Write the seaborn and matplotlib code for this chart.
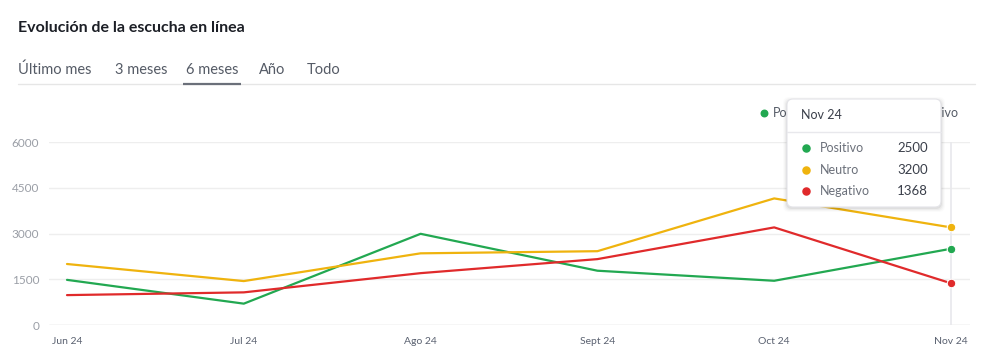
import numpy as np
import pandas as pd
import matplotlib
matplotlib.use("Agg")
import matplotlib.pyplot as plt
from matplotlib.patches import FancyBboxPatch
import seaborn as sns

# data
months = ["Jun 24", "Jul 24", "Ago 24", "Sept 24", "Oct 24", "Nov 24"]
series = ["Positivo", "Neutro", "Negativo"]
positivo = [1480, 700, 2990, 1780, 1450, 2500]
neutro = [2000, 1440, 2350, 2420, 4150, 3200]
negativo = [980, 1070, 1700, 2160, 3200, 1368]
yticks = [0, 1500, 3000, 4500, 6000]
tabs = ["Último mes", "3 meses", "6 meses", "Año", "Todo"]
active_tab = "6 meses"
title = "Evolución de la escucha en línea"

colors = {"Positivo": "#22a851", "Neutro": "#efb30e", "Negativo": "#e02a2b"}

df = pd.DataFrame({
    "mes": months * 3,
    "idx": list(range(len(months))) * 3,
    "serie": np.repeat(series, len(months)),
    "valor": positivo + neutro + negativo,
})

sns.set_theme(style="white")
plt.rcParams["font.family"] = ["Lato", "DejaVu Sans"]

W, H = 992, 364
fig = plt.figure(figsize=(W / 100, H / 100), dpi=100)

# main plot area, placed in pixels
left, right, top, bottom = 49, 970, 142, 325
ax = fig.add_axes([left / W, (H - bottom) / H, (right - left) / W, (bottom - top) / H])

sns.lineplot(data=df, x="idx", y="valor", hue="serie", palette=colors,
             linewidth=1.6, ax=ax, legend=False, zorder=3)

x0, dx = 67, (951 - 67) / 5
ax.set_xlim((left - x0) / dx, (right - x0) / dx)
ax.set_ylim(0, 6000)
ax.set_yticks(yticks)
ax.set_yticklabels([str(v) for v in yticks])
ax.set_xticks(range(len(months)))
ax.set_xticklabels(months)
ax.tick_params(axis="y", labelsize=8.5, labelcolor="#9a9ea6", length=0, pad=7)
ax.tick_params(axis="x", labelsize=7.5, labelcolor="#5a6170", length=0, pad=9)
ax.set_xlabel("")
ax.set_ylabel("")
ax.grid(axis="y", color="#eeeeee", linewidth=1)
ax.grid(axis="x", visible=False)
for s in ax.spines.values():
    s.set_visible(False)
ax.axhline(0, color="#e6e6e6", linewidth=1, zorder=1)

# hover crosshair and markers on last month
last = len(months) - 1
ax.axvline(last, color="#e8e8ec", linewidth=1.2, zorder=1)
last_vals = {"Positivo": positivo[-1], "Neutro": neutro[-1], "Negativo": negativo[-1]}
for name in series:
    ax.scatter([last], [last_vals[name]], s=38, color=colors[name],
               edgecolor="white", linewidth=0.8, zorder=5, clip_on=False)

# overlay in pixel coords for header, legend, tooltip
ov = fig.add_axes([0, 0, 1, 1], zorder=10)
ov.set_xlim(0, W)
ov.set_ylim(H, 0)
ov.axis("off")
ov.patch.set_alpha(0)

ov.text(18, 28, title, fontsize=11.5, fontweight="bold", color="#1c1f26",
        va="center", ha="left")

tab_x = [18, 115, 186, 259, 307]
for tx, t in zip(tab_x, tabs):
    ov.text(tx, 70, t, fontsize=10.5, color="#555b66", va="center", ha="left")
ov.plot([18, 975], [83.5, 83.5], color="#e6e6e6", linewidth=1)
ov.plot([183, 241], [83.5, 83.5], color="#6b707a", linewidth=1.6,
        solid_capstyle="butt")

# legend (partly hidden by tooltip)
leg_x = [764, 832, 900]
for lx, name in zip(leg_x, series):
    ov.scatter([lx], [113], s=22, color=colors[name], zorder=2)
    ov.text(lx + 9, 113, name, fontsize=9, color="#555b66", va="center",
            ha="left", zorder=2)

# tooltip box
bx0, by0, bx1, by1 = 787, 99, 941, 207
for k, a in enumerate([0.05, 0.035, 0.025, 0.015]):
    ov.add_patch(FancyBboxPatch((bx0 - 1 - k, by0 + 1 - k), bx1 - bx0 + 2 + 2 * k,
                                by1 - by0 + 1 + 2 * k,
                                boxstyle="round,pad=0,rounding_size=6",
                                facecolor="#000000", edgecolor="none",
                                alpha=a, zorder=4))
ov.add_patch(FancyBboxPatch((bx0, by0), bx1 - bx0, by1 - by0,
                            boxstyle="round,pad=0,rounding_size=6",
                            facecolor="white", edgecolor="#e4e4e8",
                            linewidth=0.8, zorder=5))
ov.text(801, 115, months[-1], fontsize=9, color="#3a3f4a", va="center",
        ha="left", zorder=6)
ov.plot([bx0, bx1], [132, 132], color="#e8e8ec", linewidth=1, zorder=6)
for ry, name in zip([148, 170, 191], series):
    ov.scatter([806], [ry], s=26, color=colors[name], zorder=6)
    ov.text(820, ry, name, fontsize=9, color="#6b707a", va="center",
            ha="left", zorder=6)
    ov.text(928, ry, str(last_vals[name]), fontsize=9.5, color="#3a3f4a",
            va="center", ha="right", zorder=6)

fig.savefig("out.png", dpi=100)
